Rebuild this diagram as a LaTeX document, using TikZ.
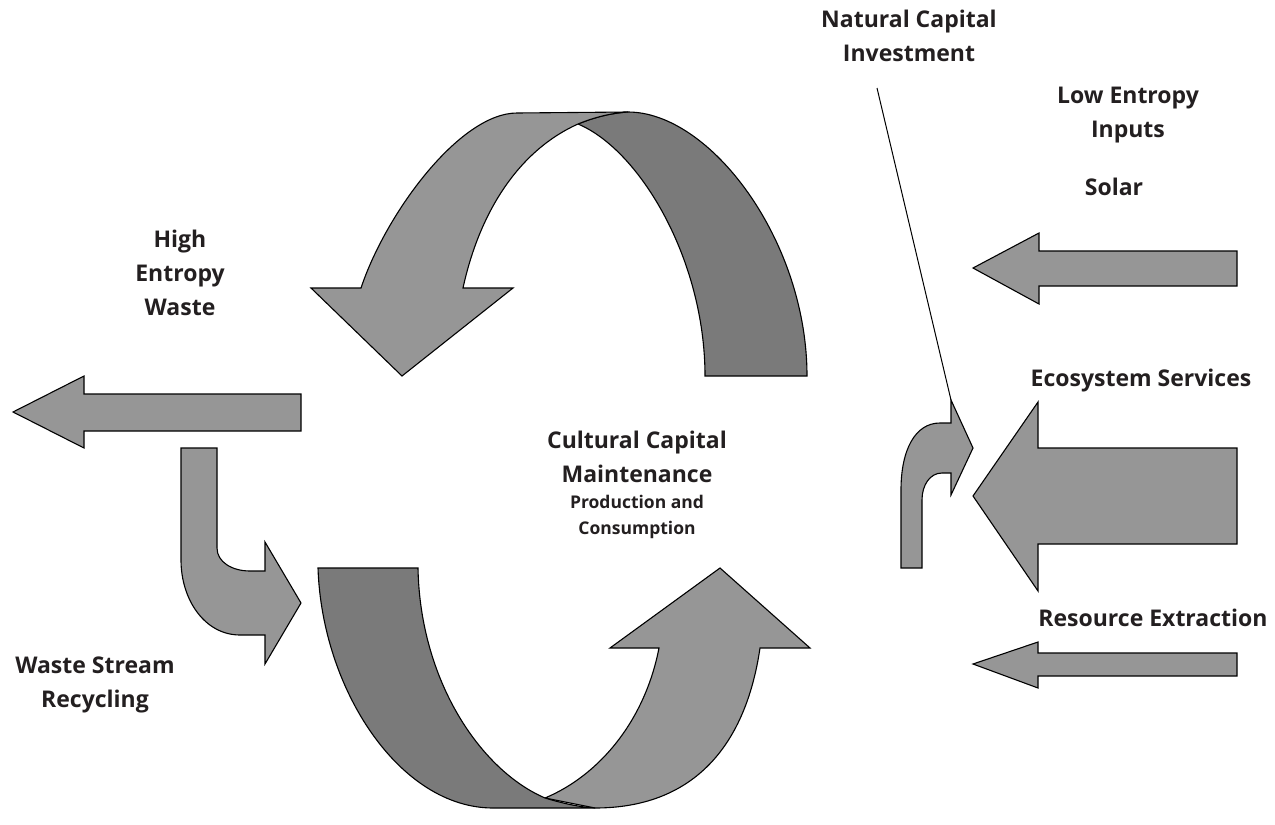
\documentclass[tikz,border=0pt]{standalone}
\usepackage{fontspec}
\setmainfont{Open Sans}[Ligatures=NoCommon]
\definecolor{bandlight}{RGB}{150,150,150}
\definecolor{banddark}{RGB}{122,122,122}
\definecolor{txt}{RGB}{35,31,32}
\tikzset{
  lightband/.style={fill=bandlight, draw=black, line width=1.1pt, line join=miter},
  darkband/.style={fill=banddark, draw=black, line width=1.1pt, line join=miter},
  lbl/.style={align=center, text=txt, font=\fontsize{23}{34}\selectfont\bfseries, inner sep=0pt},
  smalllbl/.style={align=center, text=txt, font=\fontsize{17.5}{26}\selectfont\bfseries, inner sep=0pt}
}
\begin{document}
\begin{tikzpicture}[x=1pt,y=-1pt]
\useasboundingbox (0,0) rectangle (1275,825);
% top arch
\draw[darkband] (628,112) .. controls (710,112) and (807,240) .. (807,376) -- (705,376)
  .. controls (705,260) and (640,150) .. (578,124) .. controls (595,117) and (612,113) .. (628,112) -- cycle;
\draw[lightband] (361,288) .. controls (386,213) and (460,113) .. (517,113) -- (628,112)
  .. controls (612,113) and (595,117) .. (578,124) .. controls (520,150) and (480,210) .. (463,288)
  -- (513,288) -- (402,376) -- (311,288) -- cycle;
% bottom U
\draw[lightband] (595,808) .. controls (690,808) and (745,750) .. (760,648) -- (810,648) -- (720,568)
  -- (610,648) -- (659,648) .. controls (645,720) and (600,775) .. (545,798) -- cycle;
\draw[darkband] (318,568) -- (418,568) .. controls (420,680) and (480,770) .. (545,798)
  .. controls (565,804) and (580,807) .. (595,808) -- (493,808) .. controls (400,808) and (322,690) .. (318,568) -- cycle;
% high entropy waste arrow
\draw[lightband] (13,412) -- (84,376) -- (84,394) -- (301,394) -- (301,431) -- (84,431) -- (84,448) -- cycle;
% recycling bent arrow
\draw[lightband] (181,448) -- (217,448) -- (217,548) .. controls (217,562) and (232,571) .. (250,571)
  -- (265,571) -- (265,542) -- (301,603) -- (265,664) -- (265,635) -- (240,635)
  .. controls (205,635) and (181,600) .. (181,560) -- cycle;
% inputs
\draw[lightband] (973,268) -- (1039,233) -- (1039,251) -- (1237,251) -- (1237,286) -- (1039,286) -- (1039,304) -- cycle;
\draw[lightband] (973,496) -- (1038,402) -- (1038,448) -- (1237,448) -- (1237,544) -- (1038,544) -- (1038,591) -- cycle;
\draw[lightband] (973,664) -- (1038,642) -- (1038,653) -- (1237,653) -- (1237,676) -- (1038,676) -- (1038,688) -- cycle;
% natural capital investment bent arrow
\draw[lightband] (901,568) -- (901,490) .. controls (901,450) and (915,423) .. (940,423) -- (951,423)
  -- (951,400) -- (973,448) -- (951,495) -- (951,473) -- (942,473)
  .. controls (930,473) and (922,485) .. (922,500) -- (922,568) -- cycle;
% labels
\node[lbl] (nci) at (909,36) {Natural Capital\\Investment};
\node[lbl] (lei) at (1128,115) {Low Entropy\\Inputs};
\node[lbl] (solar) at (1114,187) {Solar};
\node[lbl] (eco) at (1141,381) {Ecosystem Services};
\node[lbl] (res) at (1153,618) {Resource Extraction};
\node[lbl] (hew) at (180,273) {High\\Entropy\\Waste};
\node[lbl] (wsr) at (95,685) {Waste Stream\\Recycling};
\node[lbl] (ccm) at (637,457) {Cultural Capital\\Maintenance};
\node[smalllbl] (pc) at (637,517) {Production and\\Consumption};
\coordinate (lineStart) at (877,88);
\coordinate (arrowTop) at (951,400);
\draw[line width=1pt] (lineStart) -- (arrowTop);
\end{tikzpicture}
\end{document}
